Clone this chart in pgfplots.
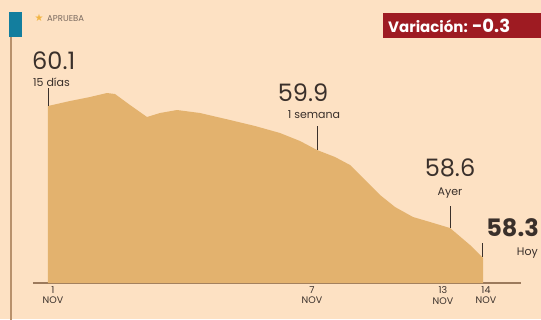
\documentclass[border=0pt]{standalone}
\usepackage{pgfplots}
\pgfplotsset{compat=1.18}
\usepackage{fontspec}
\setmainfont{Poppins}
\newfontfamily\symfont{DejaVu Sans}
\definecolor{bg}{HTML}{FDE1C3}
\definecolor{areac}{HTML}{E3B26E}
\definecolor{basec}{HTML}{9C7A5C}
\definecolor{linec}{HTML}{B8916C}
\definecolor{tealc}{HTML}{137E9E}
\definecolor{starc}{HTML}{F2B544}
\definecolor{redc}{HTML}{9E1B22}
\definecolor{txt}{HTML}{3A302B}
\definecolor{graytxt}{HTML}{7A6A60}
\begin{document}
\begin{tikzpicture}
\fill[bg] (-33pt,-36pt) rectangle (508pt,283pt);
\begin{axis}[
  width=488pt, height=283pt, scale only axis,
  xmin=33, xmax=521, ymin=0, ymax=283,
  axis x line=bottom, axis y line=none,
  x axis line style={draw=basec, line width=1.2pt, -},
  xtick={53,312,443,486},
  xticklabels={{1\\NOV},{7\\NOV},{13\\NOV},{14\\NOV}},
  xticklabel style={align=center, font=\fontsize{9.5}{10.5}\selectfont, text=txt, yshift=0pt},
  major tick length=0pt,
  clip=false,
]
\addplot[fill=areac, draw=none] coordinates {
 (48,0) (48,177) (70,182) (90,186) (107,190) (115,189) (130,178) (147,166)
 (160,170) (177,173) (200,170) (230,163) (255,157) (280,150) (300,142)
 (317,133) (335,126) (350,118) (365,103) (380,88) (395,76) (413,66)
 (430,61) (450,55) (470,38) (483,25) (483,0)
};
% left decoration
\draw[linec, line width=1.3pt] (axis cs:11,-40) -- (axis cs:11,248);
\fill[tealc] (axis cs:9,246) rectangle (axis cs:22,271);
\node[text=starc, font=\symfont\fontsize{10}{10}\selectfont] at (axis cs:39,265) {★};
\node[anchor=west, text=graytxt, font=\fontsize{8.5}{8.5}\selectfont, inner sep=0pt] at (axis cs:47,264) {APRUEBA};
% variation box
\fill[redc] (axis cs:383,245) rectangle (axis cs:548,270);
\node[anchor=west, text=white, inner sep=0pt, font=\bfseries\fontsize{15}{15}\selectfont] at (axis cs:388,257.5) {Variación: {\fontsize{18}{18}\selectfont -0.3}};
% annotations
\node[anchor=west, text=txt, inner sep=0pt, font=\fontsize{24}{24}\selectfont] at (axis cs:32,222) {60.1};
\node[anchor=west, text=txt, inner sep=0pt, font=\fontsize{11}{11}\selectfont] at (axis cs:33,201) {15 días};
\draw[txt, line width=0.6pt] (axis cs:48,195) -- (axis cs:48,177);
\node[text=txt, inner sep=0pt, font=\fontsize{24}{24}\selectfont] at (axis cs:303,190) {59.9};
\node[text=txt, inner sep=0pt, font=\fontsize{11}{11}\selectfont] at (axis cs:314,168) {1 semana};
\draw[txt, line width=0.6pt] (axis cs:317,157) -- (axis cs:317,133);
\node[text=txt, inner sep=0pt, font=\fontsize{24}{24}\selectfont] at (axis cs:450,115) {58.6};
\node[text=txt, inner sep=0pt, font=\fontsize{11}{11}\selectfont] at (axis cs:450,90) {Ayer};
\draw[txt, line width=0.6pt] (axis cs:450,77) -- (axis cs:450,55);
\node[anchor=east, text=txt, inner sep=0pt, font=\bfseries\fontsize{24}{24}\selectfont] at (axis cs:539,55) {58.3};
\node[anchor=east, text=txt, inner sep=0pt, font=\fontsize{11}{11}\selectfont] at (axis cs:538,30) {Hoy};
\draw[txt, line width=0.6pt] (axis cs:482,40) -- (axis cs:482,26);
\end{axis}
\pgfresetboundingbox
\useasboundingbox (-33pt,-36pt) rectangle (508pt,283pt);
\end{tikzpicture}
\end{document}
